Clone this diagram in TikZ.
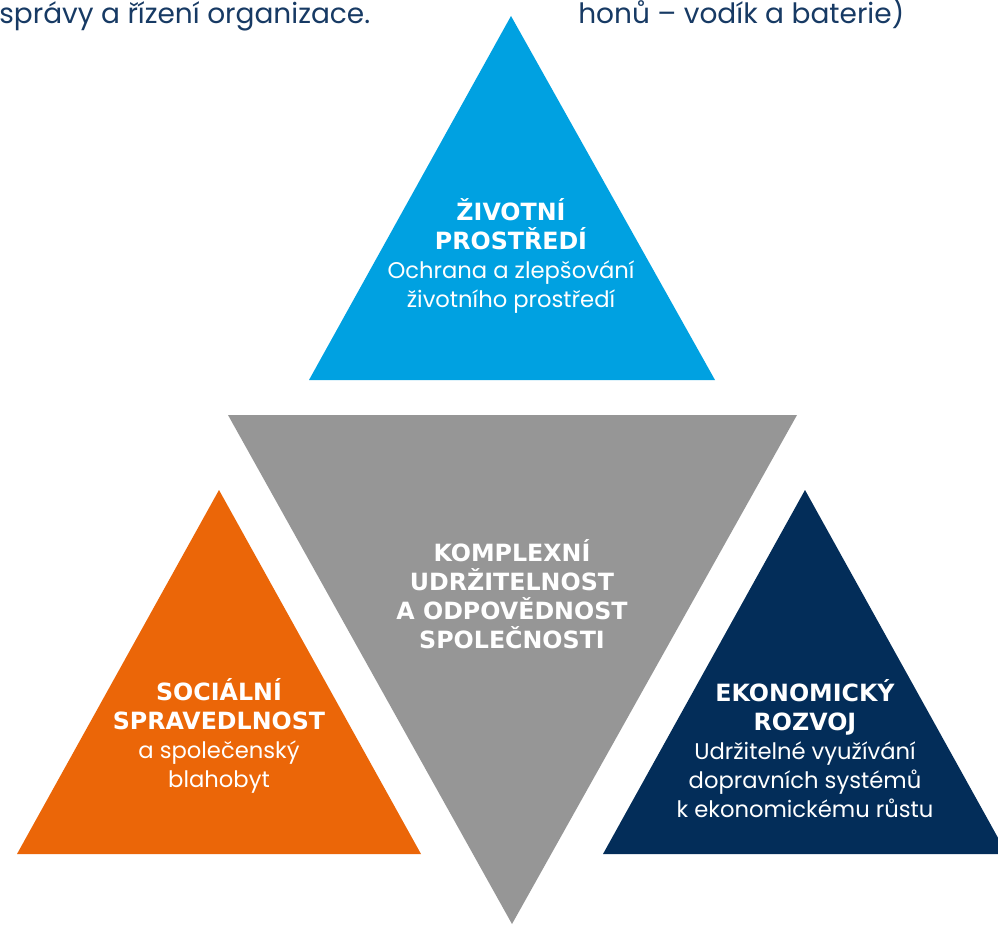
\documentclass[tikz,border=0pt]{standalone}
\usepackage{fontspec}
\setmainfont{Poppins}
\newfontfamily\capsfont{DejaVu Sans}
\definecolor{envblue}{HTML}{00A1E1}
\definecolor{coregray}{HTML}{969696}
\definecolor{socorange}{HTML}{EB6608}
\definecolor{econavy}{HTML}{032D59}
\definecolor{inktext}{HTML}{173A64}
\newcommand\headline[1]{{\capsfont\bfseries\fontsize{17.8}{21.75}\selectfont #1}}
\tikzset{
  label/.style={text=white, align=center, inner sep=0pt,
    font=\fontsize{17}{21.75}\selectfont},
  toptext/.style={text=inktext, inner sep=0pt,
    font=\fontsize{21}{24}\selectfont}
}
\begin{document}
\begin{tikzpicture}[x=0.75pt,y=-0.75pt]
\useasboundingbox (0,0) rectangle (998,924);
\clip (0,0) rectangle (998,924);
\fill[white] (0,0) rectangle (998,924);

% four triangles
\fill[envblue]   (511,16) -- (715,380) -- (309,380) -- cycle;
\fill[coregray]  (228,415) -- (797,415) -- (512,924) -- cycle;
\fill[socorange] (219,490) -- (421,854) -- (17,854) -- cycle;
\fill[econavy]   (805,490) -- (1007,854) -- (603,854) -- cycle;

% text fragments running along the top edge
\node[toptext, anchor=base west] (lefttxt) at (-1,24) {správy a řízení organizace.};
\node[toptext, anchor=base west] (righttxt) at (578,24) {honů – vodík a baterie)};

% labels inside the triangles
\node[label] (env) at (511,256)
  {\headline{ŽIVOTNÍ}\\\headline{PROSTŘEDÍ}\\Ochrana a zlepšování\\životního prostředí};
\node[label] (core) at (512,594)
  {\headline{KOMPLEXNÍ}\\\headline{UDRŽITELNOST}\\\headline{A ODPOVĚDNOST}\\\headline{SPOLEČNOSTI}};
\node[label] (soc) at (219,736)
  {\headline{SOCIÁLNÍ}\\\headline{SPRAVEDLNOST}\\a společenský\\blahobyt};
\node[label] (eco) at (805,749)
  {\headline{EKONOMICKÝ}\\\headline{ROZVOJ}\\Udržitelné využívání\\dopravních systémů\\k ekonomickému růstu};
\end{tikzpicture}
\end{document}
